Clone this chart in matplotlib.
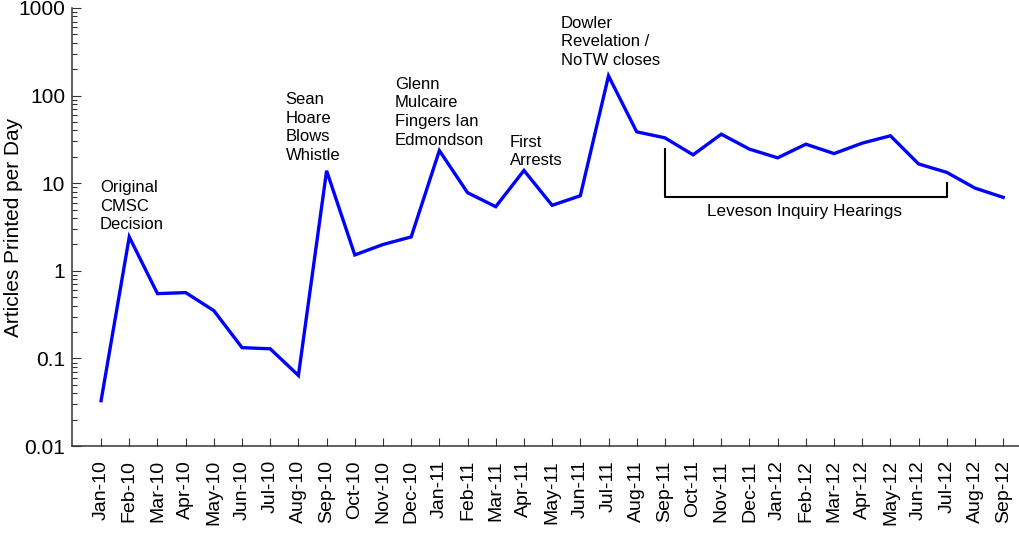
import matplotlib
matplotlib.use("Agg")
import matplotlib.pyplot as plt
from matplotlib.ticker import FixedLocator, FixedFormatter, LogLocator, NullFormatter

plt.rcParams['font.family'] = ['Liberation Sans', 'DejaVu Sans']

# Monate und Werte (Artikel pro Tag)
monate = ["Jan-10", "Feb-10", "Mar-10", "Apr-10", "May-10", "Jun-10", "Jul-10", "Aug-10",
          "Sep-10", "Oct-10", "Nov-10", "Dec-10", "Jan-11", "Feb-11", "Mar-11", "Apr-11",
          "May-11", "Jun-11", "Jul-11", "Aug-11", "Sep-11", "Oct-11", "Nov-11", "Dec-11",
          "Jan-12", "Feb-12", "Mar-12", "Apr-12", "May-12", "Jun-12", "Jul-12", "Aug-12",
          "Sep-12"]
artikel = [0.033, 2.44, 0.55, 0.565, 0.352, 0.133, 0.129, 0.064,
           13.9, 1.52, 2.0, 2.44, 23.6, 7.8, 5.4, 14.0,
           5.6, 7.2, 168, 38.6, 33, 21.1, 36.3, 24.5,
           19.5, 27.9, 21.8, 28.7, 34.8, 16.6, 13.3, 8.8,
           6.9]

y_ticks = [0.01, 0.1, 1, 10, 100, 1000]
y_tick_labels = ["0.01", "0.1", "1", "10", "100", "1000"]

# Ereignisse: (Text, x-Index links, y oben)
ereignisse = [
    ("Original\nCMSC\nDecision", -0.04, 10.9),
    ("Sean\nHoare\nBlows\nWhistle", 6.55, 110),
    ("Glenn\nMulcaire\nFingers Ian\nEdmondson", 10.43, 164),
    ("First\nArrests", 14.5, 35.7),
    ("Dowler\nRevelation /\nNoTW closes", 16.31, 815),
]

# Leveson-Klammer
leveson_start = monate.index("Sep-11")
leveson_ende = monate.index("Jul-12")

fig = plt.figure(figsize=(10.19, 5.33), dpi=100)
ax = fig.add_axes([0.0707, 0.163, 0.929, 0.822])

x = list(range(len(monate)))
ax.plot(x, artikel, color="#0000ff", linewidth=2.4, solid_joinstyle="miter")

ax.set_yscale("log")
ax.set_ylim(0.01, 1000)
ax.set_xlim(-1.03, 32.55)

ax.yaxis.set_major_locator(FixedLocator(y_ticks))
ax.yaxis.set_major_formatter(FixedFormatter(y_tick_labels))
ax.yaxis.set_minor_locator(LogLocator(base=10, subs=range(2, 10)))
ax.yaxis.set_minor_formatter(NullFormatter())

ax.set_xticks(x)
ax.set_xticklabels(monate, rotation=90, fontsize=14)

ax.tick_params(axis="y", which="major", direction="in", length=6.5, width=0.8,
               labelsize=15, pad=5, colors="#333333", labelcolor="black")
ax.tick_params(axis="y", which="minor", direction="in", length=3.6, width=0.8,
               colors="#333333")
ax.tick_params(axis="x", which="major", direction="in", length=6, width=0.8,
               pad=10, colors="#333333", labelcolor="black")

for s in ["top", "right"]:
    ax.spines[s].set_visible(False)
for s in ["left", "bottom"]:
    ax.spines[s].set_linewidth(1.1)
    ax.spines[s].set_color("#333333")

ax.set_ylabel("Articles Printed per Day", fontsize=15)
ax.yaxis.set_label_coords(-0.052, 0.5)

for text, tx, ty in ereignisse:
    ax.text(tx, ty, text, fontsize=12, ha="left", va="top", linespacing=1.3)

ax.plot([leveson_start, leveson_start, leveson_ende, leveson_ende],
        [24.7, 7.0, 7.0, 10.1], color="black", linewidth=1.5)
ax.text(24.96, 4.7, "Leveson Inquiry Hearings", fontsize=12.3, ha="center", va="center")

fig.savefig("out.png", dpi=100)
